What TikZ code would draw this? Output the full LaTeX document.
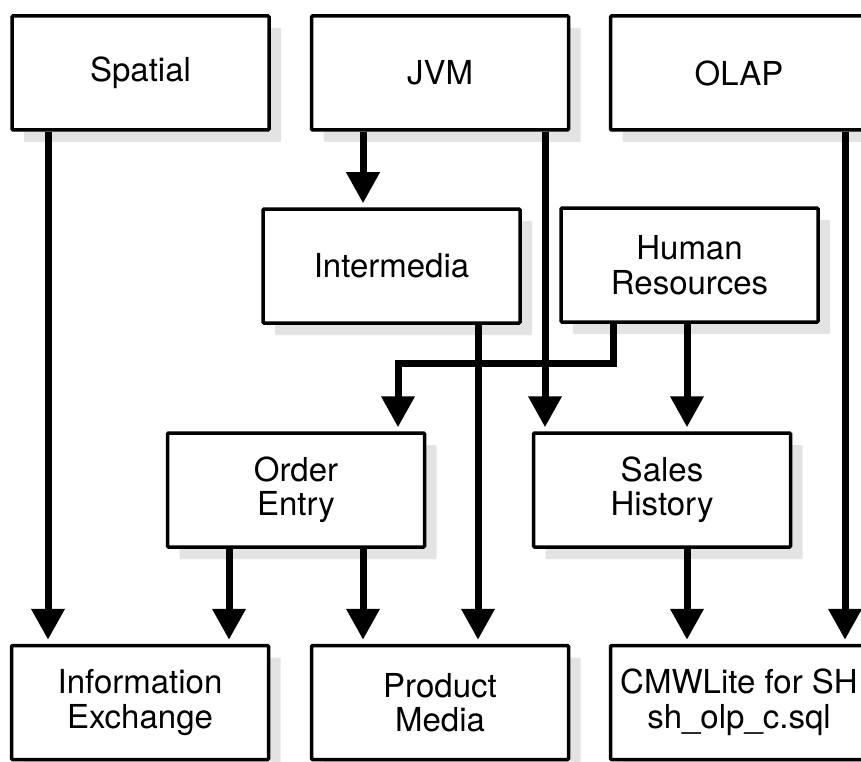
\documentclass[tikz,border=0pt]{standalone}
\usepackage{fontspec}
\setmainfont{TeX Gyre Heros}
\usetikzlibrary{arrows.meta,shadows}
\tikzset{
  box/.style={draw=black, line width=3.5pt, fill=white, rounded corners=1pt,
    minimum width=257pt, minimum height=114pt, inner sep=0pt, align=center,
    font=\fontsize{33}{34.5}\selectfont,
    drop shadow={shadow xshift=12pt, shadow yshift=-12pt, fill=black!11, opacity=1, rounded corners=0pt}},
  arr/.style={line width=7pt, -{Triangle[width=32pt,length=31pt]}, shorten >=4pt},
}
\begin{document}
\begin{tikzpicture}[x=1pt,y=-1pt]
\useasboundingbox (0,0) rectangle (861,762);
\clip (0,0) rectangle (861,762);
% columns and rows
\coordinate (c48) at (48,0);
\coordinate (c229) at (229,0);
\coordinate (c363) at (363,0);
\coordinate (c398) at (398,0);
\coordinate (c478) at (478,0);
\coordinate (c545) at (545,0);
\coordinate (c613) at (613,0);
\coordinate (c687) at (687,0);
\coordinate (c845) at (845,0);
\coordinate (r363) at (0,363);
% boxes
\node[box] (sp)  at (140.5,73) {Spatial};
\node[box] (jvm) at (440,73) {JVM};
\node[box] (olap) at (739,73) {OLAP};
\node[box] (im)  at (391.5,266) {Intermedia};
\node[box] (hr)  at (689.5,265) {Human\\Resources};
\node[box] (oe)  at (296,490) {Order\\Entry};
\node[box] (sh)  at (662,490) {Sales\\History};
\node[box] (ie)  at (140,702.5) {Information\\Exchange};
\node[box] (pm)  at (440,702.5) {Product\\Media};
\node[box] (cmw) at (739,702.5) {CMWLite for SH\\sh\_olp\_c.sql};
% connectors
\draw[arr] (sp.south -| c48) -- (ie.north -| c48);
\draw[arr] (jvm.south -| c363) -- (im.north -| c363);
\draw[arr] (jvm.south -| c545) -- (sh.north -| c545);
\draw[arr] (olap.south -| c845) -- (cmw.north -| c845);
\draw[arr] (im.south -| c478) -- (pm.north -| c478);
\draw[arr] (hr.south -| c613) -- (c613 |- r363) -- (c398 |- r363) -- (oe.north -| c398);
\draw[arr] (hr.south -| c687) -- (sh.north -| c687);
\draw[arr] (oe.south -| c229) -- (ie.north -| c229);
\draw[arr] (oe.south -| c363) -- (pm.north -| c363);
\draw[arr] (sh.south -| c687) -- (cmw.north -| c687);
\end{tikzpicture}
\end{document}
